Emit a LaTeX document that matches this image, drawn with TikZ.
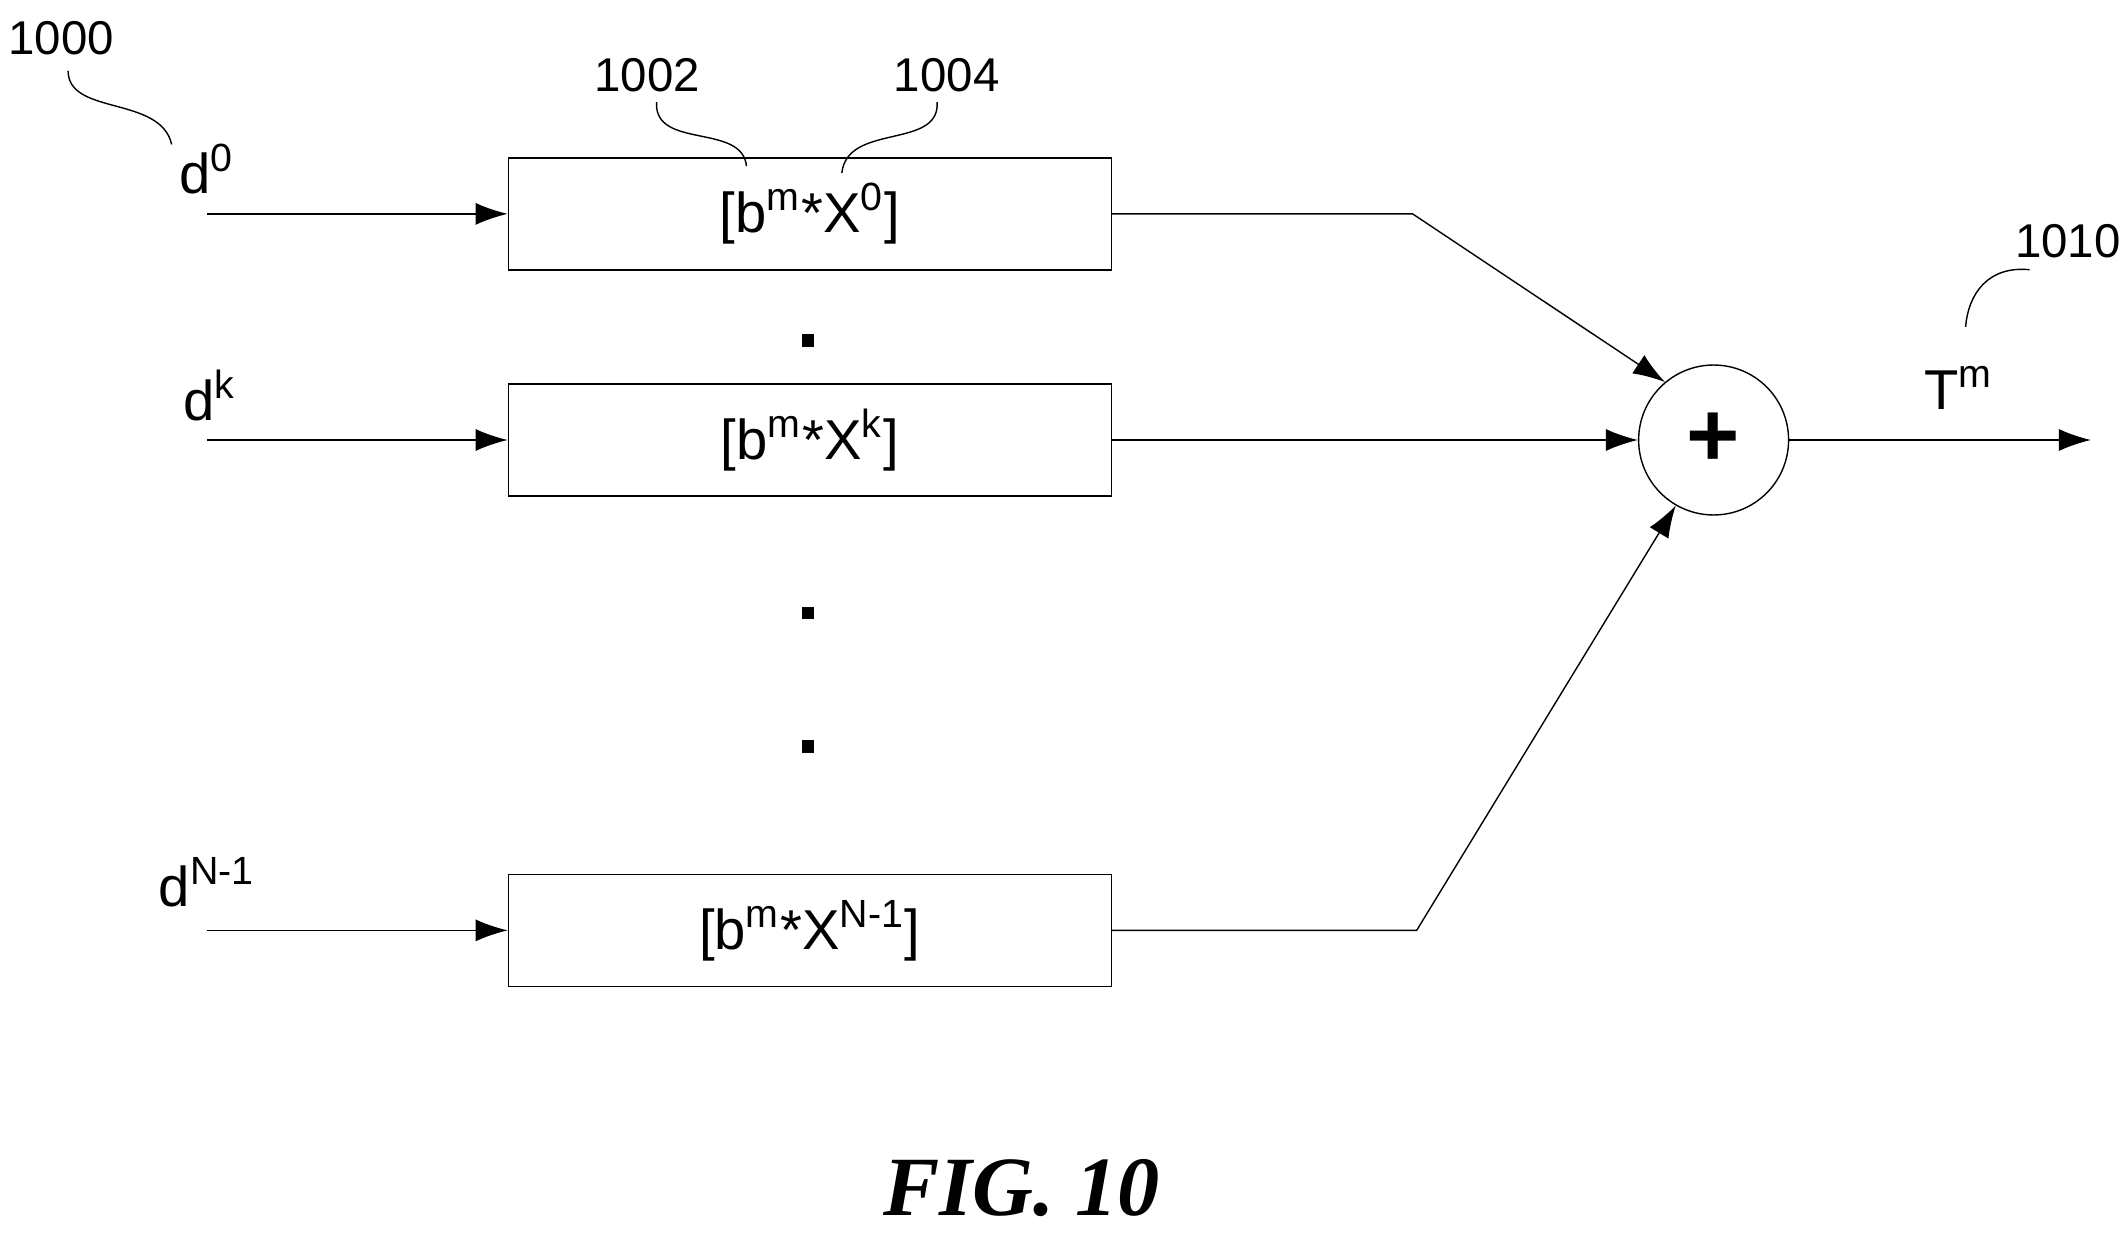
\documentclass[tikz,border=0pt]{standalone}
\usepackage{fontspec}
\setmainfont{Liberation Sans}
\newfontfamily\figfont{Liberation Serif}
\usetikzlibrary{arrows.meta}

\begin{document}
\begin{tikzpicture}[x=0.01362cm,y=-0.01362cm,
  blk/.style={draw,minimum width=6.03cm,minimum height=1.12cm,inner sep=0pt,font=\fontsize{16}{18}\selectfont},
  sig/.style={-{Latex[length=3.2mm,width=2.2mm]}},
  lbl/.style={font=\fontsize{16}{18}\selectfont},
  ref/.style={font=\fontsize{13.5}{15}\selectfont}]
  \useasboundingbox (0,0) rectangle (1560,907);
  % blocks
  \node [blk](B0) at (594.5,157) {[b\textsuperscript{m}*X\textsuperscript{0}]};
  \node [blk](Bk) at (594.5,323) {[b\textsuperscript{m}*X\textsuperscript{k}]};
  \node [blk](BN) at (594.5,683) {[b\textsuperscript{m}*X\textsuperscript{N-1}]};
  \node [draw,circle,minimum size=1.5cm,inner sep=0pt,font=\fontsize{26}{28}\selectfont\bfseries](S) at (1258,323) {+};
  % inputs
  \coordinate (I0) at (152,157);
  \coordinate (Ik) at (152,323);
  \coordinate (IN) at (152,683);
  \draw [sig] (I0) -- (B0);
  \draw [sig] (Ik) -- (Bk);
  \draw [sig] (IN) -- (BN);
  \node [lbl](d0) at (152,124) {d\textsuperscript{0}};
  \node [lbl](dk) at (154,290) {d\textsuperscript{k}};
  \node [lbl](dN) at (152,648) {d\textsuperscript{N-1}};
  % dots
  \foreach \yy in {250,450,548}
    \fill (588.5,\yy-4.5) rectangle ++(9,9);
  % to adder
  \coordinate (K0) at (1037,157);
  \coordinate (KN) at (1040,683);
  \draw [sig] (B0.east) -- (K0) -- (S.130);
  \draw [sig] (Bk) -- (S);
  \draw [sig] (BN.east) -- (KN) -- (S.240);
  \coordinate (O) at (1535,323);
  \draw [sig] (S) -- (O);
  \node [lbl](T) at (1438,285) {T\textsuperscript{m}};
  % reference numerals
  \node [ref](r1000) at (45,28) {1000};
  \node [ref](r1002) at (475,55) {1002};
  \node [ref](r1004) at (695,55) {1004};
  \node [ref](r1010) at (1518,177) {1010};
  \draw (50,52) .. controls (50,85) and (118,70) .. (126,106);
  \draw (482,75) .. controls (480,110) and (545,90) .. (548,122);
  \draw (688,75) .. controls (690,110) and (622,90) .. (618,127);
  \draw (1490,198) .. controls (1460,195) and (1445,215) .. (1443,240);
  \node [font=\figfont\fontsize{24}{26}\selectfont\bfseries\itshape](fig) at (750,872) {FIG. 10};
\end{tikzpicture}
\end{document}
